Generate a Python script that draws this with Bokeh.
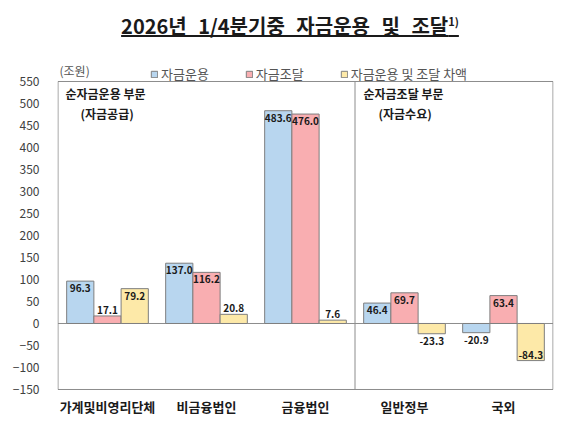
from bokeh.plotting import figure
from bokeh.models import (ColumnDataSource, FactorRange, Label, Legend, LegendItem,
                          Div, FixedTicker)
from bokeh.transform import dodge
from bokeh.layouts import column
from bokeh.core.properties import value
from bokeh.embed import file_html
from bokeh.resources import INLINE

FONT = "Noto Sans CJK KR"

categories = ["가계및비영리단체", "비금융법인", "금융법인", "일반정부", "국외"]
series_names = ["자금운용", "자금조달", "자금운용 및 조달 차액"]
uses = [96.3, 137.0, 483.6, 46.4, -20.9]
sources = [17.1, 116.2, 476.0, 69.7, 63.4]
diffs = [79.2, 20.8, 7.6, -23.3, -84.3]
y_ticks = list(range(-150, 551, 50))
colors = ["#b8d6ef", "#f9aeb1", "#fde9a8"]
n_supply = 3  # first three categories: 순자금운용 부문

y_lo, y_hi = y_ticks[0], y_ticks[-1]
GRAY = "#8c8c8c"

p = figure(x_range=FactorRange(*categories, range_padding=0.002),
           y_range=(y_lo - 2.3, y_hi + 65.9),
           width=580, height=378, output_backend="svg", toolbar_location=None,
           min_border_left=57, min_border_right=27, min_border_top=7, min_border_bottom=33)
p.background_fill_color = "white"
p.border_fill_color = "white"
p.outline_line_color = None
p.xgrid.visible = False
p.ygrid.visible = False

# plot box and divider (from axis limits and category count)
p.quad(left=0, right=len(categories), bottom=y_lo, top=y_hi,
       fill_alpha=0, line_color=GRAY, line_width=1)
p.segment(x0=n_supply, y0=y_lo, x1=n_supply, y1=y_hi, line_color=GRAY, line_width=1)
p.segment(x0=0, y0=0, x1=len(categories), y1=0, line_color=GRAY, line_width=1)

offsets = [-0.275, 0.0, 0.275]
renderers = []
for vals, off, col in zip([uses, sources, diffs], offsets, colors):
    labels = ["%.1f" % v for v in vals]
    base = ["top" if (v >= 30 or (-30 < v < 0)) else "bottom" for v in vals]
    yoff = [3 if b == "top" else -2 for b in base]
    src = ColumnDataSource(dict(cat=categories, v=vals, lab=labels, base=base, yoff=yoff))
    r = p.vbar(x=dodge("cat", off, range=p.x_range), top="v", bottom=0, width=0.275,
               source=src, fill_color=col, line_color="#7f7f7f", line_width=1)
    renderers.append(r)
    p.text(x=dodge("cat", off, range=p.x_range), y="v", text="lab", source=src,
           text_font=value(FONT), text_font_size="10px", text_font_style="bold",
           text_color="#1a1a1a", text_align="center", text_baseline="base", y_offset="yoff")

p.yaxis.ticker = FixedTicker(ticks=y_ticks)
p.yaxis.axis_line_color = None
p.yaxis.major_tick_line_color = None
p.yaxis.minor_tick_line_color = None
p.yaxis.major_label_standoff = 12
p.yaxis.major_label_text_font = FONT
p.yaxis.major_label_text_font_size = "12px"
p.yaxis.major_label_text_color = "#404040"

p.xaxis.axis_line_color = None
p.xaxis.major_tick_line_color = None
p.xaxis.minor_tick_line_color = None
p.xaxis.major_tick_out = 0
p.xaxis.major_tick_in = 0
p.xaxis.minor_tick_out = 0
p.xaxis.major_label_standoff = 6
p.xaxis.major_label_text_font = FONT
p.xaxis.major_label_text_font_size = "13px"
p.xaxis.major_label_text_font_style = "bold"
p.xaxis.major_label_text_color = "#1a1a1a"

legend = Legend(items=[LegendItem(label=n, renderers=[r]) for n, r in zip(series_names, renderers)],
                orientation="horizontal", location=(93, 307), padding=0, margin=0,
                spacing=36, glyph_width=8, glyph_height=8, label_standoff=3, label_height=14,
                label_text_font=FONT, label_text_font_size="13px", label_text_color="#555555",
                border_line_color=None, background_fill_alpha=0)
p.add_layout(legend, "center")

def lab(text, x, y, style="bold", color="#1a1a1a"):
    p.add_layout(Label(x=x, y=y, x_units="canvas", y_units="canvas", text=text,
                       text_font=FONT, text_font_size="12px", text_font_style=style,
                       text_color=color, text_baseline="middle", text_align="left"))

lab("(조원)", 59, 25, "normal", "#555555")
lab("순자금운용 부문", 65, 48)
lab("(자금공급)", 80, 68)
lab("순자금조달 부문", 363, 48)
lab("(자금수요)", 378, 68)

title = Div(text="<div style=\"width:580px;text-align:center;font-family:'Noto Sans CJK KR';"
                 "font-weight:bold;font-size:20px;color:#1a1a1a;padding-top:12px;word-spacing:7px;\">"
                 "<span style=\"text-decoration:underline;\">2026년 1/4분기중 자금운용 및 조달"
                 "<sup style=\"font-size:11px;\">1)</sup></span></div>",
            width=580, height=45, margin=0)

layout = column(title, p, spacing=0)
open("out.html", "w").write(file_html(layout, INLINE))
